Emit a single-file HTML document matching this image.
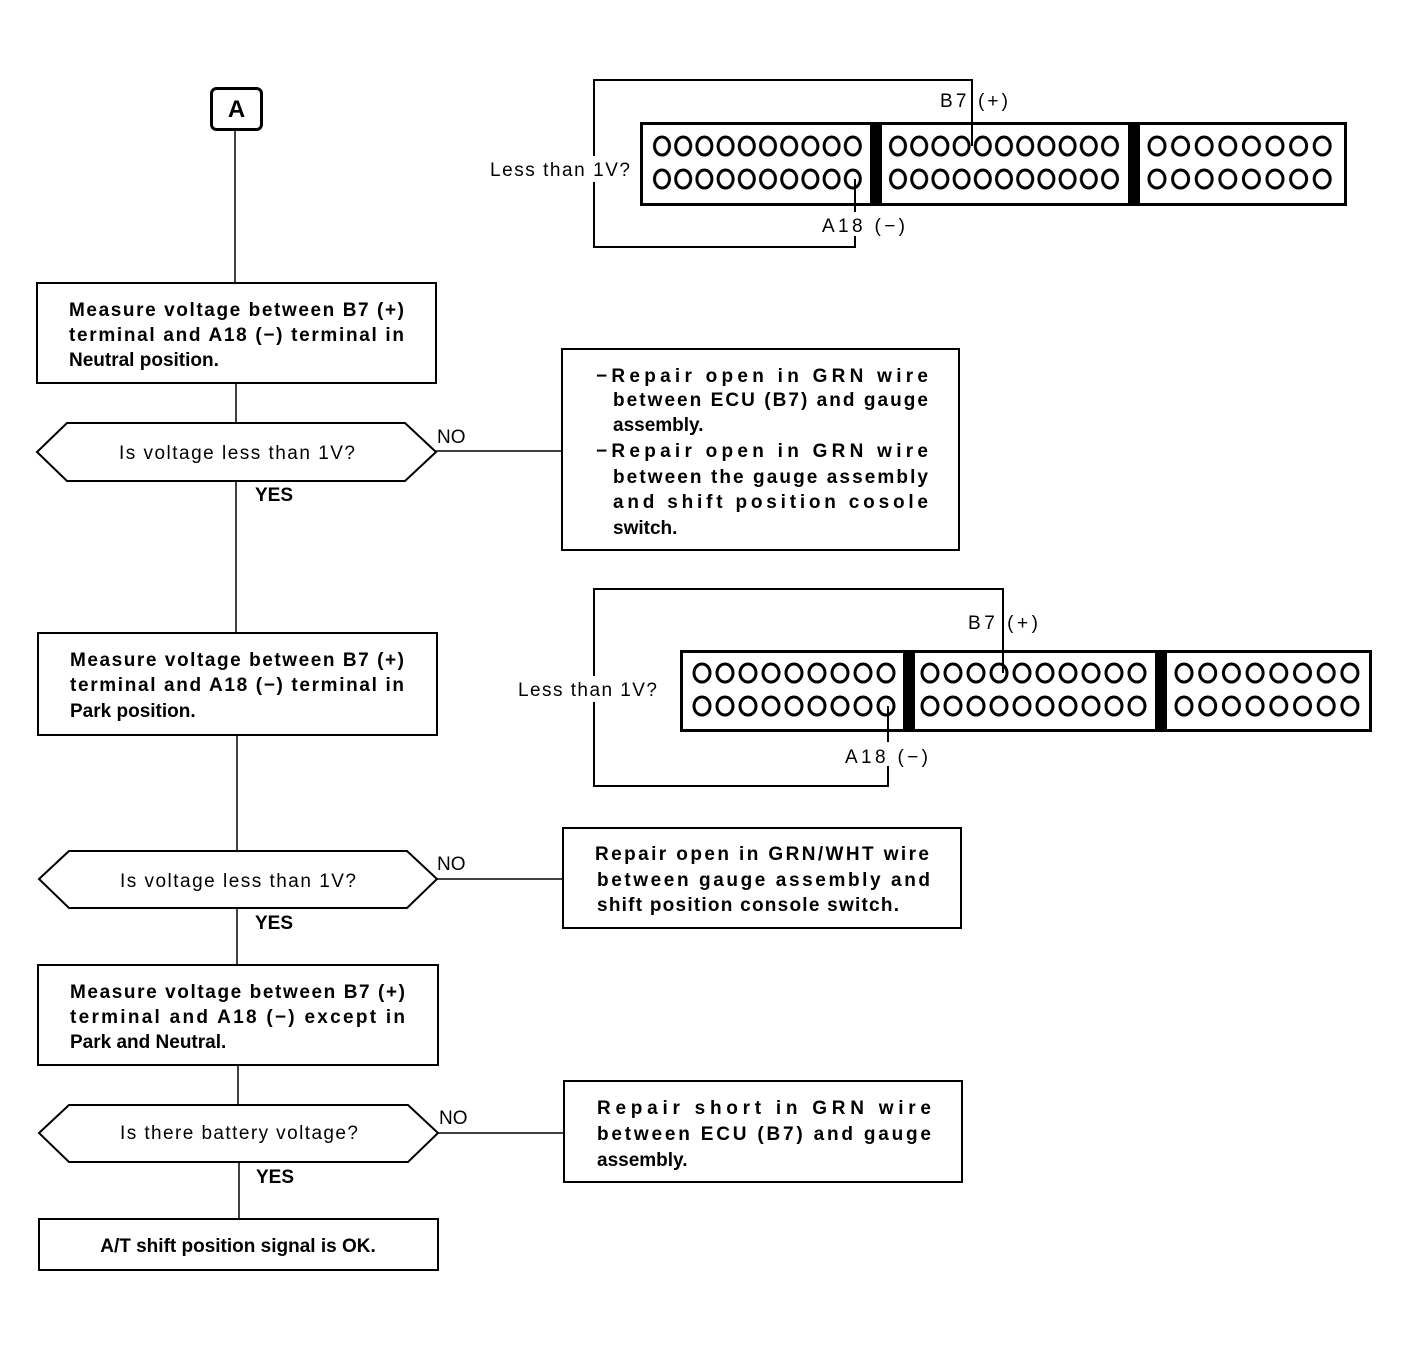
<!DOCTYPE html>
<html><head><meta charset="utf-8"><style>
html,body{margin:0;padding:0;background:#fff;}
svg{display:block;font-family:"Liberation Sans",Arial,sans-serif;}
.b{font-weight:bold;font-size:19px;}
.n{font-size:19px;}
</style></head><body>
<svg width="1408" height="1366" viewBox="0 0 1408 1366">
<defs>
<pattern id="a1" x="651.4" y="0" width="21.2" height="1366" patternUnits="userSpaceOnUse"><ellipse cx="10.6" cy="146" rx="7.5" ry="9" fill="none" stroke="#000" stroke-width="3"/><ellipse cx="10.6" cy="179" rx="7.5" ry="9" fill="none" stroke="#000" stroke-width="3"/></pattern>
<pattern id="a2" x="887.4" y="0" width="21.2" height="1366" patternUnits="userSpaceOnUse"><ellipse cx="10.6" cy="146" rx="7.5" ry="9" fill="none" stroke="#000" stroke-width="3"/><ellipse cx="10.6" cy="179" rx="7.5" ry="9" fill="none" stroke="#000" stroke-width="3"/></pattern>
<pattern id="a3" x="1145.2" y="0" width="23.6" height="1366" patternUnits="userSpaceOnUse"><ellipse cx="11.8" cy="146" rx="8" ry="9" fill="none" stroke="#000" stroke-width="3"/><ellipse cx="11.8" cy="179" rx="8" ry="9" fill="none" stroke="#000" stroke-width="3"/></pattern>
<pattern id="b1" x="690.5" y="0" width="23" height="1366" patternUnits="userSpaceOnUse"><ellipse cx="11.5" cy="673" rx="8" ry="9" fill="none" stroke="#000" stroke-width="3"/><ellipse cx="11.5" cy="706" rx="8" ry="9" fill="none" stroke="#000" stroke-width="3"/></pattern>
<pattern id="b2" x="918.5" y="0" width="23" height="1366" patternUnits="userSpaceOnUse"><ellipse cx="11.5" cy="673" rx="8" ry="9" fill="none" stroke="#000" stroke-width="3"/><ellipse cx="11.5" cy="706" rx="8" ry="9" fill="none" stroke="#000" stroke-width="3"/></pattern>
<pattern id="b3" x="1172.15" y="0" width="23.7" height="1366" patternUnits="userSpaceOnUse"><ellipse cx="11.85" cy="673" rx="8" ry="9" fill="none" stroke="#000" stroke-width="3"/><ellipse cx="11.85" cy="706" rx="8" ry="9" fill="none" stroke="#000" stroke-width="3"/></pattern>
</defs>

<!-- Connector 1 -->
<polyline points="972,140 972,80 594,80 594,247 855,247 855,179" fill="none" stroke="#000" stroke-width="2"/>
<rect x="490" y="156" width="140" height="26" fill="#fff"/>
<text x="490" y="176" class="n" textLength="140">Less than 1V?</text>
<rect x="641.5" y="123.5" width="704" height="81" fill="none" stroke="#000" stroke-width="3"/>
<rect x="870" y="122" width="12" height="84" fill="#000"/>
<rect x="1128" y="122" width="12" height="84" fill="#000"/>
<rect x="651.4" y="128" width="212" height="70" fill="url(#a1)"/>
<rect x="887.4" y="128" width="233.2" height="70" fill="url(#a2)"/>
<rect x="1145.2" y="128" width="188.8" height="70" fill="url(#a3)"/>
<line x1="972" y1="112" x2="972" y2="146" stroke="#000" stroke-width="2"/>
<rect x="820" y="212" width="88" height="24" fill="#fff"/>
<text x="940" y="107" class="n" textLength="68">B7 (+)</text>
<text x="822" y="232" class="n" textLength="83">A18 (−)</text>

<!-- Connector 2 -->
<polyline points="1003,660 1003,589 594,589 594,786 888,786 888,706" fill="none" stroke="#000" stroke-width="2"/>
<rect x="516" y="676" width="142" height="26" fill="#fff"/>
<text x="518" y="696" class="n" textLength="139">Less than 1V?</text>
<rect x="681.5" y="651.5" width="689" height="79" fill="none" stroke="#000" stroke-width="3"/>
<rect x="903" y="650" width="12" height="82" fill="#000"/>
<rect x="1155" y="650" width="12" height="82" fill="#000"/>
<rect x="690.5" y="656" width="207" height="68" fill="url(#b1)"/>
<rect x="918.5" y="656" width="230" height="68" fill="url(#b2)"/>
<rect x="1172.15" y="656" width="189.6" height="68" fill="url(#b3)"/>
<line x1="1003" y1="635" x2="1003" y2="673" stroke="#000" stroke-width="2"/>
<rect x="843" y="742" width="88" height="24" fill="#fff"/>
<text x="968" y="629" class="n" textLength="70">B7 (+)</text>
<text x="845" y="763" class="n" textLength="83">A18 (−)</text>

<!-- Flow lines -->
<g stroke="#000" stroke-width="1.5" fill="none">
<line x1="235" y1="129" x2="235" y2="283"/>
<line x1="236" y1="383" x2="236" y2="423"/>
<line x1="236" y1="481" x2="236" y2="633"/>
<line x1="237" y1="735" x2="237" y2="851"/>
<line x1="237" y1="908" x2="237" y2="965"/>
<line x1="238" y1="1065" x2="238" y2="1105"/>
<line x1="239" y1="1162" x2="239" y2="1219"/>
<line x1="436" y1="451" x2="562" y2="451"/>
<line x1="437" y1="879" x2="563" y2="879"/>
<line x1="438" y1="1133" x2="564" y2="1133"/>
</g>

<!-- A -->
<rect x="211.5" y="88.5" width="50" height="41" rx="5" fill="none" stroke="#000" stroke-width="3"/>
<text x="236.5" y="117" text-anchor="middle" font-weight="bold" font-size="24">A</text>

<g stroke="#000" stroke-width="2" fill="#fff">
<rect x="37" y="283" width="399" height="100"/>
<polygon points="37,452 67,423 405,423 436,452 405,481 67,481"/>
<rect x="562" y="349" width="397" height="201"/>
<rect x="38" y="633" width="399" height="102"/>
<polygon points="39,879 69,851 407,851 437,879 407,908 69,908"/>
<rect x="563" y="828" width="398" height="100"/>
<rect x="38" y="965" width="400" height="100"/>
<polygon points="39,1133 69,1105 408,1105 438,1133 408,1162 69,1162"/>
<rect x="564" y="1081" width="398" height="101"/>
<rect x="39" y="1219" width="399" height="51"/>
</g>

<g class="b">
<text x="69" y="316" textLength="335">Measure voltage between B7 (+)</text>
<text x="69" y="341" textLength="335">terminal and A18 (−) terminal in</text>
<text x="69" y="366">Neutral position.</text>

<text x="70" y="666" textLength="334">Measure voltage between B7 (+)</text>
<text x="70" y="691" textLength="334">terminal and A18 (−) terminal in</text>
<text x="70" y="717">Park position.</text>

<text x="70" y="998" textLength="335">Measure voltage between B7 (+)</text>
<text x="70" y="1023" textLength="335">terminal and A18 (−) except in</text>
<text x="70" y="1048">Park and Neutral.</text>

<text x="596" y="382" textLength="332">−Repair open in GRN wire</text>
<text x="613" y="406" textLength="315">between ECU (B7) and gauge</text>
<text x="613" y="431">assembly.</text>
<text x="596" y="457" textLength="332">−Repair open in GRN wire</text>
<text x="613" y="483" textLength="315">between the gauge assembly</text>
<text x="613" y="508" textLength="315">and shift position cosole</text>
<text x="613" y="534">switch.</text>

<text x="595" y="860" textLength="334">Repair open in GRN/WHT wire</text>
<text x="597" y="886" textLength="333">between gauge assembly and</text>
<text x="597" y="911" textLength="302">shift position console switch.</text>

<text x="597" y="1114" textLength="334">Repair short in GRN wire</text>
<text x="597" y="1140" textLength="334">between ECU (B7) and gauge</text>
<text x="597" y="1166">assembly.</text>

<text x="238" y="1252" text-anchor="middle">A/T shift position signal is OK.</text>
</g>

<g class="n">
<text x="237" y="459" text-anchor="middle" textLength="236">Is voltage less than 1V?</text>
<text x="238" y="887" text-anchor="middle" textLength="236">Is voltage less than 1V?</text>
<text x="239" y="1139" text-anchor="middle" textLength="238">Is there battery voltage?</text>
<text x="437" y="443">NO</text>
<text x="437" y="870">NO</text>
<text x="439" y="1124">NO</text>
<text x="255" y="501" font-weight="bold">YES</text>
<text x="255" y="929" font-weight="bold">YES</text>
<text x="256" y="1183" font-weight="bold">YES</text>
</g>
</svg>
</body></html>
